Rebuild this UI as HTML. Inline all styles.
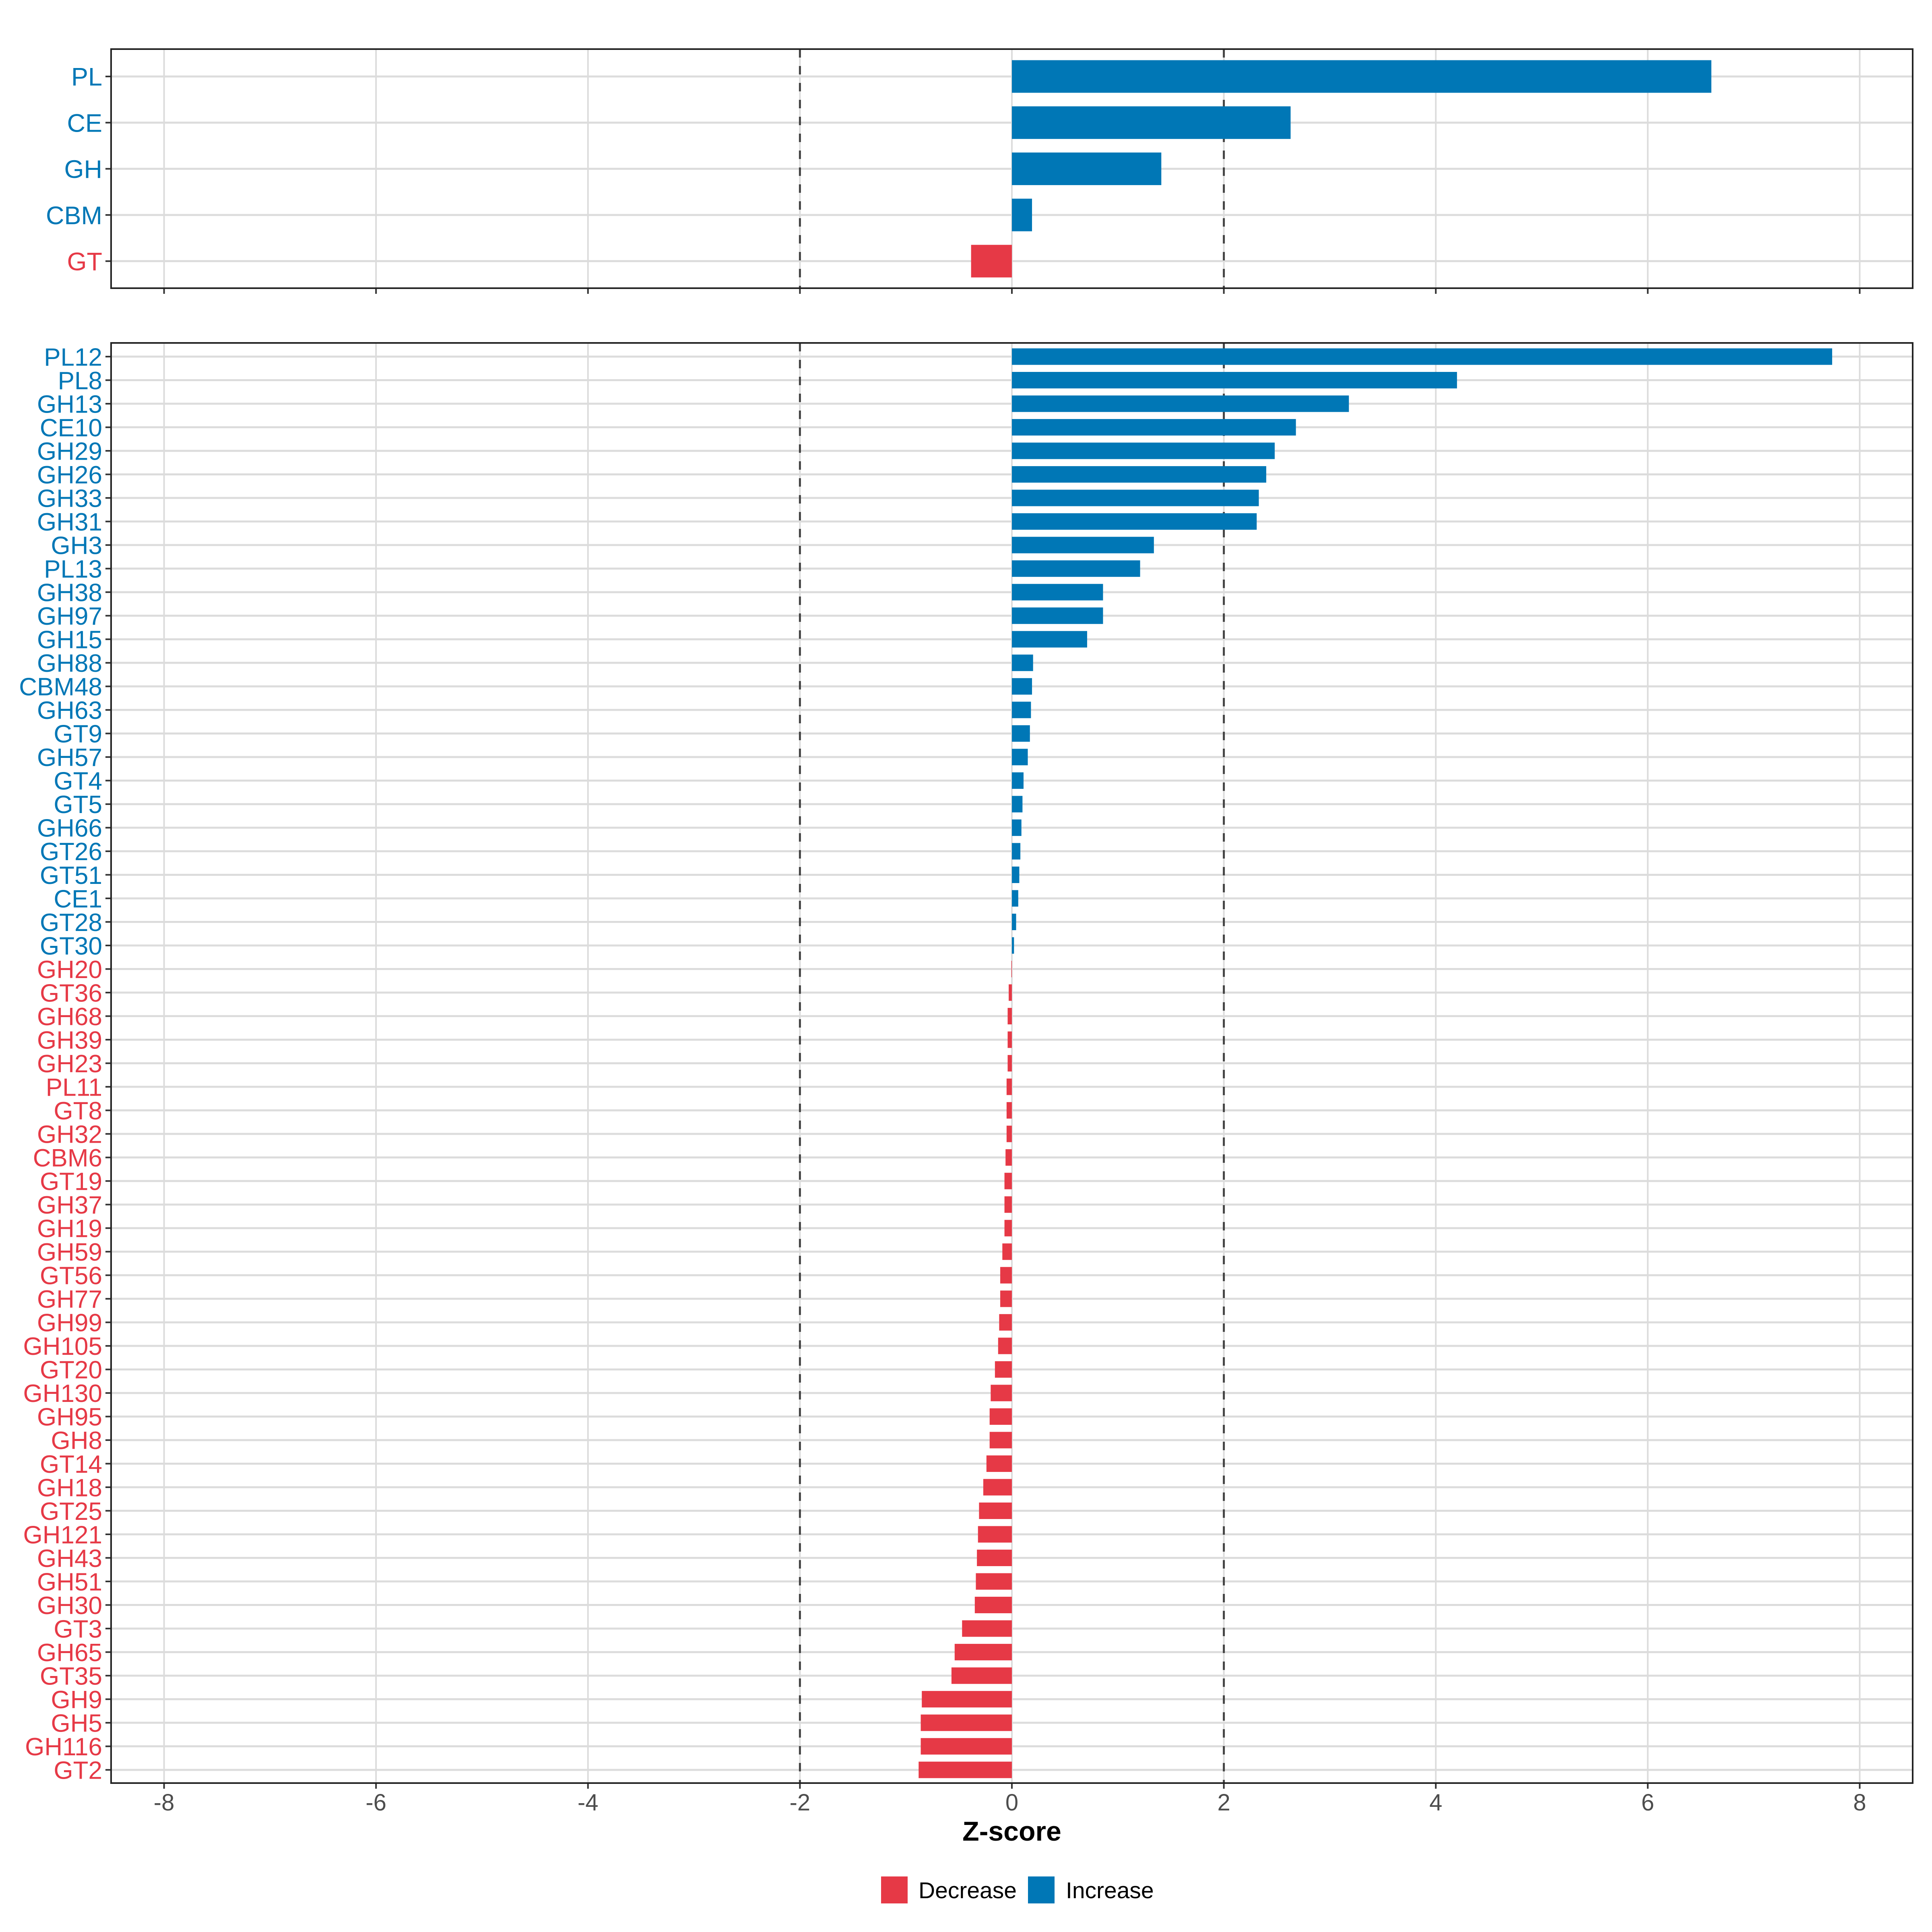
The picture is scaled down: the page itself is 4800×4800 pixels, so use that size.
<!DOCTYPE html>
<html><head><meta charset="utf-8"><style>
html,body{margin:0;padding:0;background:#fff;}
svg{display:block;font-family:"Liberation Sans",Arial,sans-serif;}
</style></head><body>
<svg id="chart" width="4800" height="4800" viewBox="0 0 4800 4800" xmlns="http://www.w3.org/2000/svg">
<g id="top-panel"></g>
<g id="bottom-panel"></g>
<g id="x-axis"></g>
<text x="2514" y="4573" text-anchor="middle" font-size="68" font-weight="bold" fill="#000">Z-score</text>
<g>
<rect x="2189" y="4662" width="66" height="67" fill="#E63946"/>
<text x="2282" y="4716" font-size="57" fill="#000">Decrease</text>
<rect x="2554" y="4662" width="66" height="67" fill="#0077B6"/>
<text x="2648" y="4716" font-size="57" fill="#000">Increase</text>
</g>
</svg>
<script>
const topCategories = ["PL","CE","GH","CBM","GT"];
const topValues = [6.60, 2.63, 1.41, 0.19, -0.385];
const bottomCategories = ["PL12","PL8","GH13","CE10","GH29","GH26","GH33","GH31","GH3","PL13","GH38","GH97","GH15","GH88","CBM48","GH63","GT9","GH57","GT4","GT5","GH66","GT26","GT51","CE1","GT28","GT30","GH20","GT36","GH68","GH39","GH23","PL11","GT8","GH32","CBM6","GT19","GH37","GH19","GH59","GT56","GH77","GH99","GH105","GT20","GH130","GH95","GH8","GT14","GH18","GT25","GH121","GH43","GH51","GH30","GT3","GH65","GT35","GH9","GH5","GH116","GT2"];
const bottomValues = [7.74,4.20,3.18,2.68,2.48,2.40,2.33,2.31,1.34,1.21,0.86,0.86,0.71,0.20,0.19,0.18,0.17,0.15,0.11,0.10,0.09,0.08,0.07,0.06,0.04,0.02,-0.005,-0.03,-0.04,-0.04,-0.04,-0.05,-0.05,-0.05,-0.06,-0.07,-0.07,-0.07,-0.09,-0.11,-0.11,-0.12,-0.13,-0.16,-0.20,-0.21,-0.21,-0.24,-0.27,-0.31,-0.32,-0.33,-0.34,-0.35,-0.47,-0.54,-0.57,-0.85,-0.86,-0.86,-0.88];
const xTicks = [-8,-6,-4,-2,0,2,4,6,8];
const thresholds = [-2,2];

const NS = "http://www.w3.org/2000/svg";
const BLUE = "#0077B6", RED = "#E63946";
const PL = 276, PR = 4752;
function xScale(v){ return 2514 + v * 263.3; }
function mk(tag, attrs, parent){ const e = document.createElementNS(NS, tag); for (const k in attrs) e.setAttribute(k, attrs[k]); parent.appendChild(e); return e; }

function drawPanel(g, cats, vals, top, bottom, firstY, step, barH, fontSize, prefix){
  mk("rect", {x:PL, y:top, width:PR-PL, height:bottom-top, fill:"#fff"}, g);
  xTicks.forEach(t => {
    const l = mk("line", {x1:xScale(t), x2:xScale(t), y1:top, y2:bottom, stroke:"#dcdcdc", "stroke-width":4}, g);
    
    
  });
  cats.forEach((c, i) => {
    const y = firstY + i * step;
    const l = mk("line", {x1:PL, x2:PR, y1:y, y2:y, stroke:"#dcdcdc", "stroke-width":5}, g);
    
    
  });
  thresholds.forEach(t => {
    const l = mk("line", {x1:xScale(t), x2:xScale(t), y1:top, y2:bottom, stroke:"#444", "stroke-width":5, "stroke-dasharray":"21,21"}, g);
    
    
  });
  cats.forEach((c, i) => {
    const y = firstY + i * step;
    const v = vals[i];
    const col = v >= 0 ? BLUE : RED;
    const x0 = xScale(Math.min(0, v)), x1 = xScale(Math.max(0, v));
    const r = mk("rect", {x:x0, y:y - barH/2, width:Math.max(0, x1 - x0), height:barH, fill:col}, g);
    
    
    const tk = mk("line", {x1:PL-14, x2:PL, y1:y, y2:y, stroke:"#333", "stroke-width":4}, g);
    
    
    const t = mk("text", {x:PL-22, y:y + fontSize*0.36, "text-anchor":"end", "font-size":fontSize, fill:col}, g);
    t.textContent = c;
    
    
  });
  xTicks.forEach(t => {
    const l = mk("line", {x1:xScale(t), x2:xScale(t), y1:bottom, y2:bottom+14, stroke:"#333", "stroke-width":4}, g);
    
    
  });
  const b = mk("rect", {x:PL, y:top, width:PR-PL, height:bottom-top, fill:"none", stroke:"#222", "stroke-width":4}, g);
  
  
}

drawPanel(document.getElementById("top-panel"), topCategories, topValues, 122, 716, 190, 114.7, 81, 63, "top");
drawPanel(document.getElementById("bottom-panel"), bottomCategories, bottomValues, 852, 4430, 886, 58.52, 41, 62, "bottom");

const xa = document.getElementById("x-axis");
xTicks.forEach(t => {
  const tx = mk("text", {x:xScale(t), y:4498, "text-anchor":"middle", "font-size":58, fill:"#4d4d4d"}, xa);
  tx.textContent = String(t);
  
  
});
</script>
</body></html>
